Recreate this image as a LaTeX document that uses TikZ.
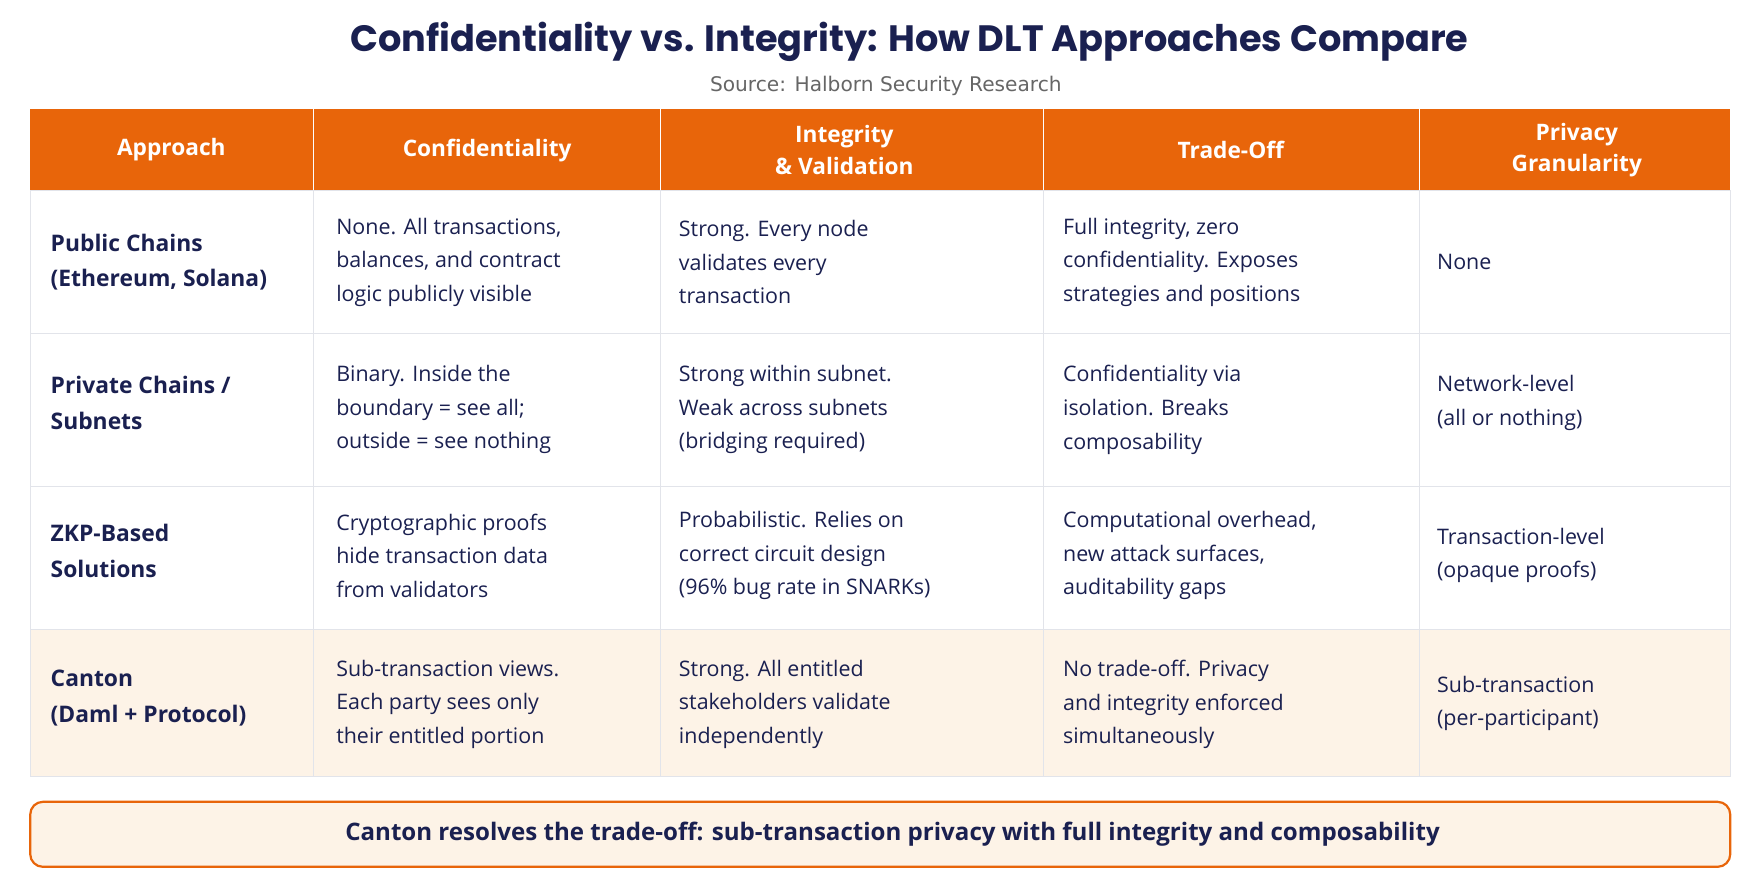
\documentclass[tikz,border=0pt]{standalone}
\usepackage{fontspec}
\setmainfont{Open Sans}
\newfontfamily\subfont{DejaVu Sans}
\newfontfamily\titlefont{Poppins}
\definecolor{navy}{HTML}{1A2050}
\definecolor{hdr}{HTML}{E8650A}
\definecolor{cream}{HTML}{FDF3E7}
\definecolor{gridc}{HTML}{E2E4EA}
\begin{document}
\begin{tikzpicture}[x = 0.025cm, y = -0.025cm,
	cell/.style = {anchor = west, align = left, text = navy, font = \fontsize{13.6}{21.3}\selectfont, inner sep = 0pt},
	rowlab/.style = {cell, font = \fontsize{14.5}{22.7}\selectfont\bfseries},
	head/.style = {align = center, text = white, font = \fontsize{14.4}{20}\selectfont\bfseries}]
	\useasboundingbox (0,0) rectangle (1568,800);
	
	\node[text = navy, font = \titlefont\fontsize{23.3}{26}\selectfont\bfseries](title) at (812,37) {Confidentiality vs. Integrity: How DLT Approaches Compare};
	\node[text = gray!80!black, font = \subfont\fontsize{12.8}{14}\selectfont](src) at (791,77) {Source: Halborn Security Research};
	
	\fill[hdr] (27,97) rectangle (1545,170);
	\fill[cream] (27,562) rectangle (1545,693);
	\draw[gridc] (27,170) rectangle (1545,693);
	\foreach \y in {298,434,562} \draw[gridc] (27,\y) -- (1545,\y);
	\foreach \x in {280,590,932,1267} {
		\draw[white] (\x,97) -- (\x,170);
		\draw[gridc] (\x,170) -- (\x,693);
	}
	
	\node[head](h1) at (153,134) {Approach};
	\node[head](h2) at (435,134) {Confidentiality};
	\node[head](h3) at (754,134) {Integrity\\\& Validation};
	\node[head](h4) at (1099,134) {Trade-Off};
	\node[head](h5) at (1408,134) {Privacy\\Granularity};
	
	\node[rowlab](r1) at (45,234) {Public Chains\\(Ethereum, Solana)};
	\node[cell](r1c2) at (300,234) {None. All transactions,\\balances, and contract\\logic publicly visible};
	\node[cell](r1c3) at (606,234) {Strong. Every node\\validates every\\transaction};
	\node[cell](r1c4) at (949,234) {Full integrity, zero\\confidentiality. Exposes\\strategies and positions};
	\node[cell](r1c5) at (1283,234) {None};
	
	\node[rowlab](r2) at (45,360) {Private Chains /\\Subnets};
	\node[cell](r2c2) at (300,366) {Binary. Inside the\\boundary = see all;\\outside = see nothing};
	\node[cell](r2c3) at (606,366) {Strong within subnet.\\Weak across subnets\\(bridging required)};
	\node[cell](r2c4) at (949,366) {Confidentiality via\\isolation. Breaks\\composability};
	\node[cell](r2c5) at (1283,360) {Network-level\\(all or nothing)};
	
	\node[rowlab](r3) at (45,492) {ZKP-Based\\Solutions};
	\node[cell](r3c2) at (300,496) {Cryptographic proofs\\hide transaction data\\from validators};
	\node[cell](r3c3) at (606,496) {Probabilistic. Relies on\\correct circuit design\\(96\% bug rate in SNARKs)};
	\node[cell](r3c4) at (949,496) {Computational overhead,\\new attack surfaces,\\auditability gaps};
	\node[cell](r3c5) at (1283,496) {Transaction-level\\(opaque proofs)};
	
	\node[rowlab](r4) at (45,623) {Canton\\(Daml + Protocol)};
	\node[cell](r4c2) at (300,629) {Sub-transaction views.\\Each party sees only\\their entitled portion};
	\node[cell](r4c3) at (606,629) {Strong. All entitled\\stakeholders validate\\independently};
	\node[cell](r4c4) at (949,629) {No trade-off. Privacy\\and integrity enforced\\simultaneously};
	\node[cell](r4c5) at (1283,628) {Sub-transaction\\(per-participant)};
	
	\draw[hdr, line width = 1.4pt, fill = cream, rounded corners = 8pt] (27,716) rectangle (1545,774);
	\node[text = navy, font = \fontsize{15.3}{18}\selectfont\bfseries](note) at (797,745) {Canton resolves the trade-off: sub-transaction privacy with full integrity and composability};
\end{tikzpicture}
\end{document}
